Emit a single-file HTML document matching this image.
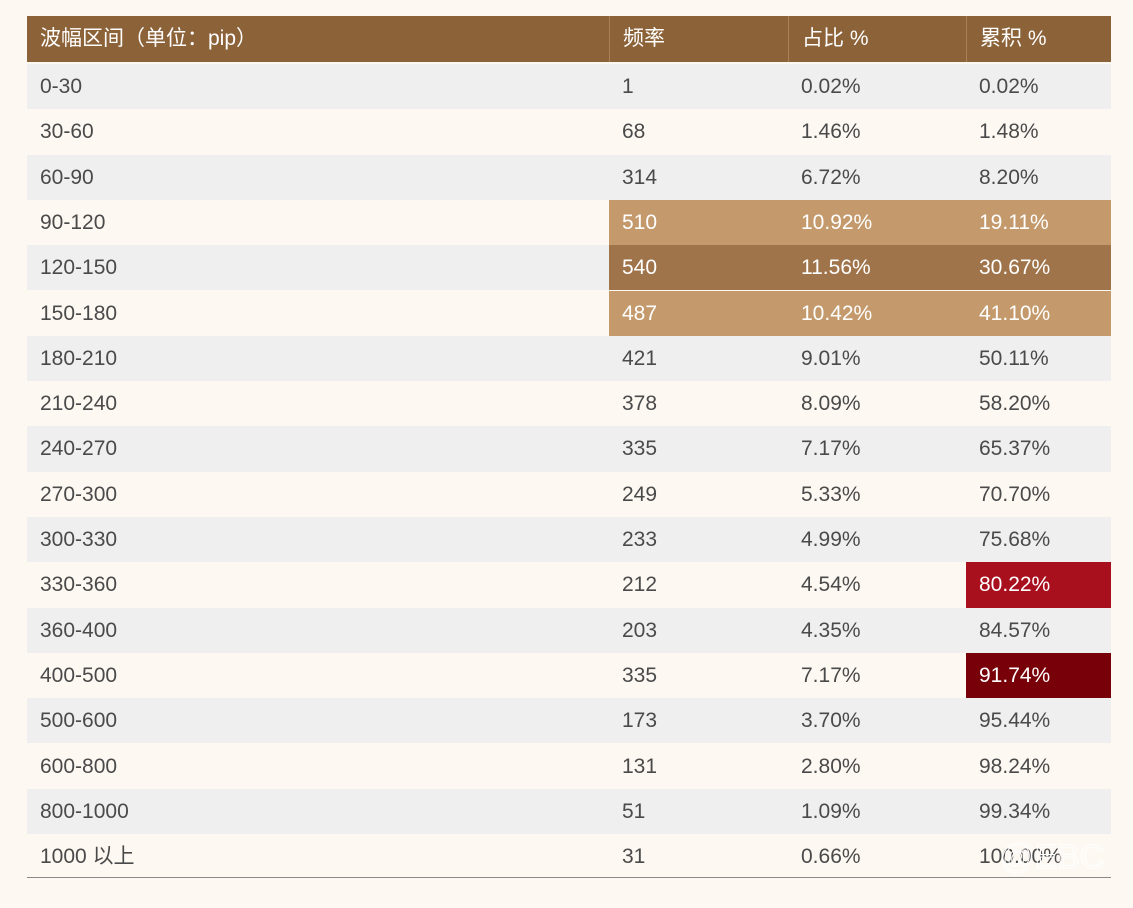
<!DOCTYPE html>
<html><head><meta charset="utf-8"><style>
body{margin:0;width:1133px;height:908px;background:#fdf8f2;font-family:"Liberation Sans","Noto Sans CJK SC",sans-serif;overflow:hidden;position:relative}
#tbl{position:absolute;left:27px;top:16px;width:1084px}
.row{position:absolute;left:0;width:1084px;height:45.3px}
.c{position:absolute;top:0;height:100%;line-height:45px;font-size:21px;color:#4a4a4a;box-sizing:border-box;padding-left:13px}
.h .c{color:#fff;background:#8c6239;border-left:1px solid #a8805a}
.h .c:first-child{border-left:none}
.wm{position:absolute;left:1000px;top:838px;font-size:34px;color:transparent;-webkit-text-stroke:1px #fff;font-weight:300}
</style></head><body>
<div id="tbl"></div>
<div style="position:absolute;left:27px;top:877px;width:1084px;height:1px;background:#888"></div>
<div class="wm">@EBC</div>
<script>
const headers=["波幅区间（单位：pip）","频率","占比 %","累积 %"];
const ranges=["0-30","30-60","60-90","90-120","120-150","150-180","180-210","210-240","240-270","270-300","300-330","330-360","360-400","400-500","500-600","600-800","800-1000","1000 以上"];
const freq=[1,68,314,510,540,487,421,378,335,249,233,212,203,335,173,131,51,31];
const pct=["0.02%","1.46%","6.72%","10.92%","11.56%","10.42%","9.01%","8.09%","7.17%","5.33%","4.99%","4.54%","4.35%","7.17%","3.70%","2.80%","1.09%","0.66%"];
const cum=["0.02%","1.48%","8.20%","19.11%","30.67%","41.10%","50.11%","58.20%","65.37%","70.70%","75.68%","80.22%","84.57%","91.74%","95.44%","98.24%","99.34%","100.00%"];
const colX=[0,582,761,939],colW=[582,179,178,145];
const tbl=document.getElementById('tbl');
function mk(cls,names,vals,top,bgs,fg){
  const r=document.createElement('div');r.className='row '+cls;r.style.top=top+'px';
  vals.forEach((v,i)=>{const c=document.createElement('div');c.className='c';
    
    
    c.style.left=colX[i]+'px';c.style.width=colW[i]+'px';c.textContent=v;
    if(bgs&&bgs[i]){c.style.background=bgs[i];c.style.color='#fff';}
    r.appendChild(c);});
  return r;
}
const hr=mk('h',['header-range','header-frequency','header-percent','header-cumulative'],headers,0,null);
hr.style.height='46px';


tbl.appendChild(hr);
ranges.forEach((rg,i)=>{
  let bgs=[null,null,null,null];
  if(i==3||i==5)bgs=[null,'#c49a6c','#c49a6c','#c49a6c'];
  if(i==4)bgs=[null,'#a0744a','#a0744a','#a0744a'];
  if(i==11)bgs[3]='#a8101e';
  if(i==13)bgs[3]='#780008';
  const r=mk('',['range-cell','frequency-cell','percent-cell','cumulative-cell'],[rg,freq[i],pct[i],cum[i]],48+i*45.3,bgs);
  r.style.background=i%2==0?'#efefef':'#fdf8f2';
  
  
  tbl.appendChild(r);
});
</script>
</body></html>
